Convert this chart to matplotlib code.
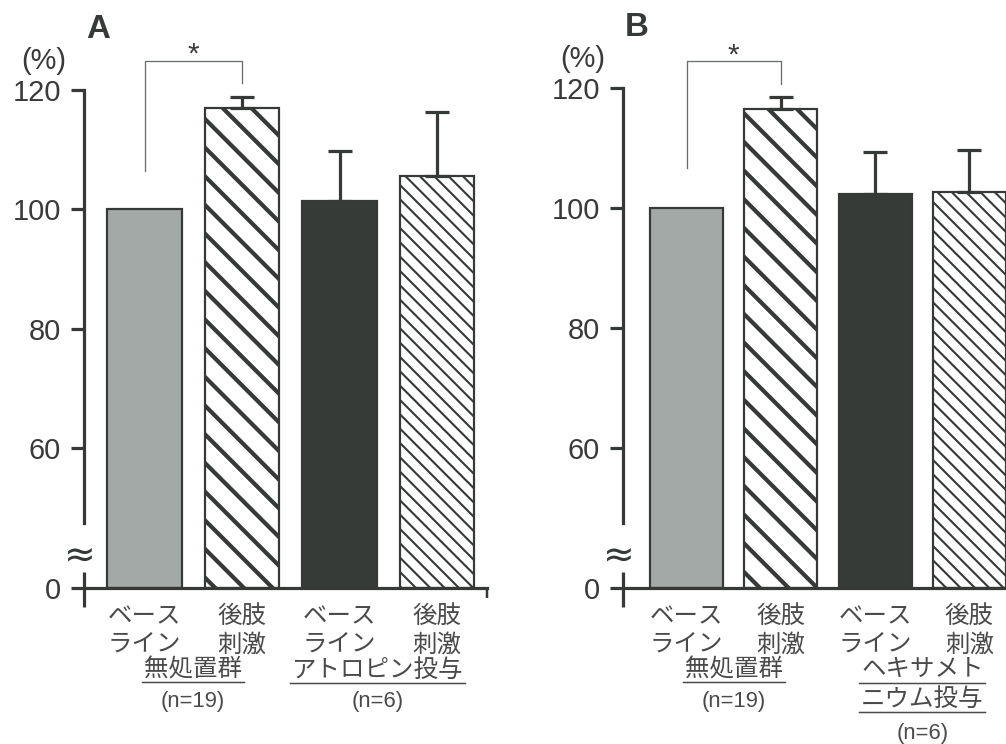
import numpy as np
import matplotlib
matplotlib.use("Agg")
import matplotlib.pyplot as plt
from matplotlib import transforms as mtransforms
from matplotlib.lines import Line2D

# ---------------- data ----------------
bar_labels = ["ベース\nライン", "後肢\n刺激", "ベース\nライン", "後肢\n刺激"]
means_A = [100.0, 117.0, 101.4, 105.6]
err_A = [0.0, 1.9, 8.3, 10.7]
means_B = [100.0, 116.5, 102.3, 102.7]
err_B = [0.0, 2.1, 7.0, 7.0]
group1_label = "無処置群"
group1_n = "(n=19)"
group2_label_A = ["アトロピン投与"]
group2_label_B = ["ヘキサメト", "ニウム投与"]
group2_n = "(n=6)"
yticks = [0, 60, 80, 100, 120]
ytick_labels = ["0", "60", "80", "100", "120"]
sig_A = (106.4, 124.9, 121.2)   # left leg low, bracket top, right leg low
sig_B = (106.7, 124.5, 120.8)

# ---------------- style / layout ----------------
W, H = 1006, 744
DPI = 86.72
PX = 72.0 / DPI          # points per pixel
plt.rcParams['font.family'] = ['Liberation Sans', 'Noto Sans CJK JP', 'DejaVu Sans']
DARK = '#353a37'
TXT = '#3a3a3a'
JTXT = '#4a4a4a'

P0 = 36.55  # display position of 0 on the broken axis (in linear units)


def fwd(v):
    v = np.asarray(v, dtype=float)
    return np.where(v >= 60, v, P0 + v * (60 - P0) / 60.0)


def inv(p):
    p = np.asarray(p, dtype=float)
    return np.where(p >= 60, p, (p - P0) * 60.0 / (60 - P0))


fig = plt.figure(figsize=(W / DPI, H / DPI), dpi=DPI)
fig.patch.set_facecolor('white')

face = ['#a3a9a6', 'white', '#363b38', 'white']
hatches = [None, '\\', None, '\\\\']
hatch_lw = [1.0, 4.2 * PX, 1.0, 2.1 * PX]

YLIM = (-10, 121)


def make_axes(left_px, right_px, y120_px, y0_px, x_first_px, spacing_px):
    ppu = (y0_px - y120_px) / (120 - P0)
    top_px = y120_px - (YLIM[1] - 120) * ppu
    bot_px = y120_px + (120 - float(fwd(YLIM[0]))) * ppu
    ax = fig.add_axes([left_px / W, 1 - bot_px / H,
                       (right_px - left_px) / W, (bot_px - top_px) / H])
    ax.set_yscale('function', functions=(fwd, inv))
    ax.set_ylim(*YLIM)
    ax.set_xlim(-(x_first_px - left_px) / spacing_px,
                (right_px - x_first_px) / spacing_px)
    ax.patch.set_alpha(0)
    return ax


def draw_panel(ax, means, errs, width, letter, sig, group2_lines, n2_dy,
               right_stub=True, g2_shift=0.0):
    x = np.arange(len(means))
    bars = ax.bar(x, means, width=width, color=face, edgecolor=DARK,
                  linewidth=2.2 * PX, zorder=2)
    for b, h, hl in zip(bars, hatches, hatch_lw):
        if h:
            b.set_hatch(h)
            if hasattr(b, 'set_hatch_linewidth'):
                b.set_hatch_linewidth(hl)
    e = np.asarray(errs)
    m = e > 0
    ax.errorbar(x[m], np.asarray(means)[m], yerr=[np.zeros(m.sum()), e[m]],
                fmt='none', ecolor=DARK, elinewidth=3.2 * PX,
                capsize=12.5 * PX, capthick=3.2 * PX, zorder=3)

    # spines
    for s in ['top', 'right']:
        ax.spines[s].set_visible(False)
    ax.spines['left'].set_bounds(27.9, 120)
    ax.spines['left'].set_linewidth(3.2 * PX)
    ax.spines['left'].set_color(DARK)
    ax.spines['bottom'].set_position(('data', 0))
    ax.spines['bottom'].set_linewidth(3.2 * PX)
    ax.spines['bottom'].set_color(DARK)
    ax.spines['bottom'].set_zorder(4)
    ytr = ax.get_yaxis_transform()
    ax.plot([0, 0], [6.9, -8.1], transform=ytr, color=DARK, lw=3.2 * PX,
            solid_capstyle='butt', clip_on=False)
    if right_stub:
        ax.plot([1, 1], [0, -4.3], transform=ytr, color=DARK, lw=2.5 * PX,
                solid_capstyle='butt', clip_on=False)

    # ticks
    ax.set_yticks(yticks)
    ax.set_yticklabels(ytick_labels)
    ax.tick_params(axis='y', direction='out', length=13 * PX, width=3.2 * PX,
                   color=DARK, labelsize=29 * PX, labelcolor=TXT, pad=10 * PX)
    ax.set_xticks([])
    ax.tick_params(axis='x', length=0)

    # bar labels (two rows)
    for xi, lab in zip(x, bar_labels):
        top, bottom = lab.split('\n')
        for txt, dy in ((top, 29), (bottom, 57)):
            ax.annotate(txt, xy=(xi, 0), xytext=(0, -dy * PX),
                        textcoords='offset points', ha='center', va='center',
                        fontsize=24.5 * PX, color=JTXT, annotation_clip=False)

    # group labels
    underlined = []
    g1x = (x[0] + x[1]) / 2
    t = ax.annotate(group1_label, xy=(g1x, 0), xytext=(0, -82 * PX),
                    textcoords='offset points', ha='center', va='center',
                    fontsize=24.5 * PX, color=JTXT, annotation_clip=False)
    underlined.append((t, 94))
    ax.annotate(group1_n, xy=(g1x, 0), xytext=(0, -113 * PX),
                textcoords='offset points', ha='center', va='center',
                fontsize=22 * PX, color=JTXT, annotation_clip=False)
    g2x = (x[2] + x[3]) / 2 + g2_shift
    dy = 82
    for line in group2_lines:
        t = ax.annotate(line, xy=(g2x, 0), xytext=(0, -dy * PX),
                        textcoords='offset points', ha='center', va='center',
                        fontsize=24.5 * PX, color=JTXT, annotation_clip=False)
        underlined.append((t, dy + 13))
        dy += 29
    ax.annotate(group2_n, xy=(g2x, 0), xytext=(0, -n2_dy * PX),
                textcoords='offset points', ha='center', va='center',
                fontsize=22 * PX, color=JTXT, annotation_clip=False)

    # break mark
    ax.annotate('≈', xy=(0, 13), xycoords=ytr, xytext=(-4 * PX, 0),
                textcoords='offset points', ha='center', va='center',
                fontsize=38 * PX, color=DARK, family='DejaVu Sans',
                annotation_clip=False)
    # unit label
    ax.annotate('(%)', xy=(0, 120), xycoords=ytr, xytext=(-40 * PX, 29 * PX),
                textcoords='offset points', ha='center', va='center',
                fontsize=29 * PX, color=TXT, annotation_clip=False)
    # panel letter
    ax.annotate(letter, xy=(0, 120), xycoords=ytr, xytext=(14 * PX, 61 * PX),
                textcoords='offset points', ha='center', va='center',
                fontsize=33 * PX, fontweight='bold', color=DARK,
                annotation_clip=False)

    # significance bracket
    lo0, top, lo1 = sig
    ax.plot([x[0], x[0], x[1], x[1]], [lo0, top, top, lo1], color='#6a6f6c',
            lw=1.3 * PX, clip_on=False)
    ax.annotate('*', xy=((x[0] + x[1]) / 2, top), xytext=(0, 6 * PX),
                textcoords='offset points', ha='center', va='center',
                fontsize=30 * PX, color=TXT, annotation_clip=False)
    return ax, underlined


axA = make_axes(84, 487, 90, 588, 144.5, 97.5)
axA, ulA = draw_panel(axA, means_A, err_A, 0.76, 'A', sig_A, group2_label_A,
                      113, right_stub=True, g2_shift=-0.11)
axB = make_axes(623, 1030, 88.3, 588, 686.5, 94.3)
axB, ulB = draw_panel(axB, means_B, err_B, 0.775, 'B', sig_B, group2_label_B,
                      145, right_stub=False)

fig.canvas.draw()
for ax, ul in ((axA, ulA), (axB, ulB)):
    y0_disp = ax.transData.transform((0, 0))[1]
    for t, dy in ul:
        bb = t.get_window_extent()
        yline = y0_disp - dy
        fig.add_artist(Line2D([bb.x0 - 2, bb.x1 + 2], [yline, yline],
                              transform=mtransforms.IdentityTransform(),
                              color=JTXT, lw=1.5 * PX))

fig.savefig('out.png', dpi=DPI, facecolor='white')
